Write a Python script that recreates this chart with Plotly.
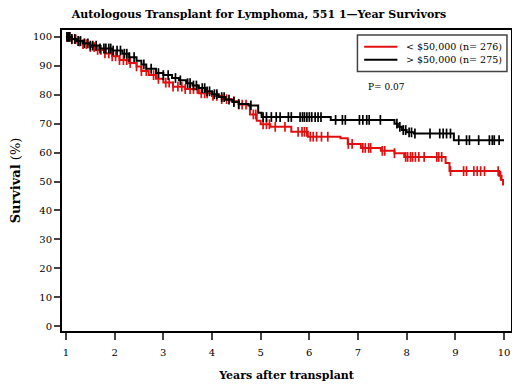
import numpy as np
import plotly.graph_objects as go

# Step curves (time in years, survival %)
black_t = [1.0, 1.12, 1.22, 1.35, 1.5, 1.69, 1.95, 2.16, 2.3, 2.45, 2.55, 2.65, 2.85, 3.0, 3.18, 3.32, 3.47, 3.6, 3.73, 3.87, 4.0, 4.14, 4.28, 4.42, 4.55, 4.75, 4.95, 5.02, 6.44, 7.75, 7.82, 7.9, 8.0, 8.15, 8.97, 10.0]
black_s = [100, 99.3, 98.6, 97.8, 97.0, 96.0, 95.3, 94.2, 93.0, 91.8, 90.5, 89.0, 87.5, 86.8, 85.8, 85.0, 84.0, 83.2, 82.3, 81.2, 80.2, 79.2, 78.3, 77.5, 76.8, 76.3, 73.8, 72.3, 71.3, 70.0, 68.9, 67.8, 67.0, 66.6, 64.3, 64.3]

red_t = [1.0, 1.1, 1.22, 1.35, 1.5, 1.62, 1.8, 1.95, 2.1, 2.3, 2.45, 2.55, 2.7, 2.85, 3.0, 3.2, 3.45, 3.73, 4.0, 4.2, 4.4, 4.55, 4.78, 4.92, 5.0, 5.2, 5.63, 5.97, 6.64, 6.79, 7.06, 7.47, 7.75, 7.95, 8.8, 8.88, 9.9, 9.95, 9.98, 10.0]
red_s = [100, 99.2, 98.4, 97.5, 96.5, 95.5, 94.3, 93.3, 92.0, 91.0, 89.8, 88.2, 86.8, 85.5, 84.2, 82.8, 82.0, 80.5, 79.6, 78.5, 77.8, 76.6, 73.2, 71.0, 69.8, 68.9, 67.2, 65.5, 65.0, 63.0, 61.6, 60.6, 59.8, 58.5, 56.4, 53.6, 52.0, 50.5, 49.0, 49.0]

# Censoring times
black_cens = [1.02, 1.05, 1.08, 1.12, 1.18, 1.25, 1.3, 1.38, 1.45, 1.5, 1.55, 1.62, 1.7, 1.78, 1.82, 1.88, 1.92, 1.97, 2.05, 2.12, 2.2, 2.25, 2.3, 2.4, 2.6, 2.75, 2.9, 3.0, 3.1, 3.25, 3.35, 3.5, 3.55, 3.62, 3.68, 3.8, 3.85, 3.9, 3.95, 4.05, 4.1, 4.2, 4.25, 4.35, 4.45, 4.55, 4.8,
              5.05, 5.12, 5.22, 5.32, 5.4, 5.57, 5.63, 5.81, 5.86, 5.9, 5.95, 6.0, 6.05, 6.12, 6.18, 6.24, 6.54, 6.68, 6.74, 7.03, 7.1, 7.18, 7.23, 7.46, 7.8, 7.86, 7.93, 7.98, 8.05, 8.1, 8.17, 8.48, 8.68, 8.75, 8.82, 8.9, 9.07, 9.23, 9.29, 9.48, 9.7, 9.76, 9.8, 9.9]
red_cens = [1.03, 1.07, 1.12, 1.2, 1.28, 1.35, 1.42, 1.5, 1.58, 1.65, 1.72, 1.8, 1.88, 1.95, 2.02, 2.1, 2.18, 2.25, 2.32, 2.45, 2.55, 2.65, 2.8, 2.9, 3.05, 3.12, 3.2, 3.3, 3.38, 3.45, 3.55, 3.62, 3.7, 3.78, 3.85, 3.9, 4.02, 4.1, 4.2, 4.3, 4.45, 4.55, 4.62, 4.7, 4.85, 4.9,
            5.05, 5.12, 5.18, 5.3, 5.5, 5.77, 5.85, 5.9, 5.95, 6.02, 6.08, 6.15, 6.25, 6.38, 6.8, 6.88, 7.1, 7.15, 7.22, 7.26, 7.5, 7.55, 7.75, 7.98, 8.02, 8.08, 8.12, 8.18, 8.25, 8.36, 8.62, 8.66, 8.72, 8.9, 9.17, 9.23, 9.38, 9.45, 9.52, 9.6, 9.88, 9.93]

x_ticks = [1, 2, 3, 4, 5, 6, 7, 8, 9, 10]
y_ticks = [0, 10, 20, 30, 40, 50, 60, 70, 80, 90, 100]

legend_names = ["< $50,000 (n= 276)", "> $50,000 (n= 275)"]
RED = "#e01010"
BLACK = "#000000"
FONT = "DejaVu Serif"


def step_at(ts, ss, q):
    ts = np.asarray(ts)
    ss = np.asarray(ss)
    idx = np.searchsorted(ts, np.asarray(q), side="right") - 1
    return ss[np.clip(idx, 0, len(ss) - 1)]


fig = go.Figure()
series = [(red_t, red_s, red_cens, RED, legend_names[0]),
          (black_t, black_s, black_cens, BLACK, legend_names[1])]
for t, s, cens, col, name in series:
    fig.add_trace(go.Scatter(x=t, y=s, mode="lines", line=dict(color=col, width=2, shape="hv"),
                             name=name, showlegend=False))
    fig.add_trace(go.Scatter(x=cens, y=step_at(t, s, cens), mode="markers",
                             marker=dict(symbol="line-ns-open", size=7, color=col,
                                         line=dict(color=col, width=1.7)),
                             showlegend=False, hoverinfo="skip"))

# Legend box (drawn in paper coordinates)
fig.add_shape(type="rect", xref="paper", yref="paper", x0=0.658, x1=0.991, y0=0.862, y1=0.983,
              line=dict(color="#444444", width=1.5), fillcolor="white", layer="below")
for i, (_, _, _, col, name) in enumerate(series):
    yy = 0.944 - i * 0.043
    fig.add_shape(type="line", xref="paper", yref="paper", x0=0.673, x1=0.747, y0=yy, y1=yy,
                  line=dict(color=col, width=2))
    fig.add_annotation(x=0.762, y=yy, xref="paper", yref="paper", text=name, showarrow=False,
                       xanchor="left", yanchor="middle", font=dict(family=FONT, size=9.5, color="black"))

fig.add_annotation(x=0.676, y=0.81, xref="paper", yref="paper", text="P= 0.07", showarrow=False,
                   xanchor="left", yanchor="middle", font=dict(family=FONT, size=9, color="black"))

fig.update_layout(
    width=504, height=377,
    margin=dict(l=54, r=1, t=22, b=54, autoexpand=False),
    paper_bgcolor="white", plot_bgcolor="white",
    font=dict(family=FONT, size=10, color="black"),
    title=dict(text="<b>Autologous Transplant for Lymphoma, 551 1\u2014Year Survivors</b>",
               x=0.498, xanchor="center", y=0.995, yanchor="top",
               font=dict(family=FONT, size=11, color="black")),
    showlegend=False,
)
fig.update_xaxes(range=[0.9185, 10.144], tickmode="array", tickvals=x_ticks, ticks="outside", ticklen=7,
                 tickwidth=1.5, ticklabelstandoff=4, ticklabeloverflow="allow", showline=True, linewidth=2,
                 linecolor="black", mirror=True, showgrid=False, zeroline=False, automargin=False,
                 title=dict(text="<b>Years after transplant</b>", font=dict(family=FONT, size=11), standoff=14))
fig.update_yaxes(range=[-1.7, 102.4], tickmode="array", tickvals=y_ticks, ticks="outside", ticklen=6,
                 tickwidth=1.5, showline=True, linewidth=2, linecolor="black", mirror=True, showgrid=False,
                 zeroline=False, automargin=False,
                 title=dict(text="<b>Survival</b> (%)", font=dict(family=FONT, size=13), standoff=14))

fig.write_html("out.html")
